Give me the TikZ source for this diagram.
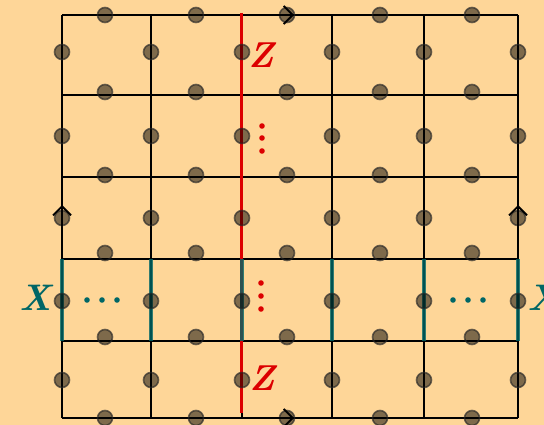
\documentclass[tikz,border=0pt]{standalone}
\usetikzlibrary{arrows.meta}
\definecolor{bgc}{RGB}{254,214,152}
\definecolor{zred}{RGB}{220,0,0}
\definecolor{xteal}{RGB}{0,102,102}
\begin{document}
\begin{tikzpicture}[x=1pt,y=-1pt,
  gridline/.style={line width=1.6pt,black},
  qubit/.style={circle,inner sep=0pt,minimum size=15pt,fill=black,fill opacity=0.5,draw=black!85,draw opacity=0.65,line width=1.6pt},
  zlab/.style={text=zred,font=\fontsize{36}{36}\selectfont\bfseries\itshape},
  xlab/.style={text=xteal,font=\fontsize{37}{37}\selectfont\bfseries\itshape},
  zline/.style={line width=3pt,zred},
  xline/.style={line width=4pt,xteal,opacity=0.8},
  edgearrow/.style={-{Straight Barb[length=9pt,width=18pt,line width=1.8pt]},line width=1.6pt,black}]
\fill[bgc] (0,0) rectangle (544,425);
\useasboundingbox (0,0) rectangle (544,425);
% grid
\foreach \x in {62,151,242,332,424,518} \draw[gridline] (\x,15) -- (\x,418);
\foreach \y in {15,95,177,259,341,418} \draw[gridline] (62,\y) -- (518,\y);
% logical Z line
\coordinate (ztop) at (241,13);
\coordinate (zbot) at (241,413);
\draw[zline] (ztop) -- (zbot);
% logical X segments
\foreach \x in {62,151,242,332,424,518} \draw[xline] (\x,259) -- (\x,341);
% qubits on horizontal edges
\foreach \y/\yy in {15/15,95/92,177/175,259/253,341/337,418/418}
  \foreach \x in {105,196,287,380,472}
    \node[qubit] at (\x,\yy) {};
% qubits on vertical edges
\foreach \y in {52,136,218,301,380}
  \foreach \x in {62,151,242,332,424,518}
    \node[qubit] at (\x,\y) {};
% boundary arrows
\coordinate (ta) at (274,15); \coordinate (tb) at (294,15);
\coordinate (ba) at (274,418); \coordinate (bb) at (294,418);
\coordinate (la) at (62,226); \coordinate (lb) at (62,205);
\coordinate (ra) at (518,226); \coordinate (rb) at (518,205);
\draw[edgearrow] (ta) -- (tb);
\draw[edgearrow] (ba) -- (bb);
\draw[edgearrow] (la) -- (lb);
\draw[edgearrow] (ra) -- (rb);
% labels
\node[zlab] (z1) at (261,55) {Z};
\node[zlab] (z2) at (262,378) {Z};
\node[xlab] (x1) at (36,298) {X};
\node[xlab,anchor=west] (x2) at (524,298) {X};
% dots
\foreach \y in {126,138,151} \fill[zred] (262,\y) circle (2.8pt);
\foreach \y in {283,296,309} \fill[zred] (261,\y) circle (2.8pt);
\foreach \x in {87,102,117} \fill[xteal] (\x,300) circle (2.8pt);
\foreach \x in {453,468,483} \fill[xteal] (\x,300) circle (2.8pt);
\end{tikzpicture}
\end{document}
